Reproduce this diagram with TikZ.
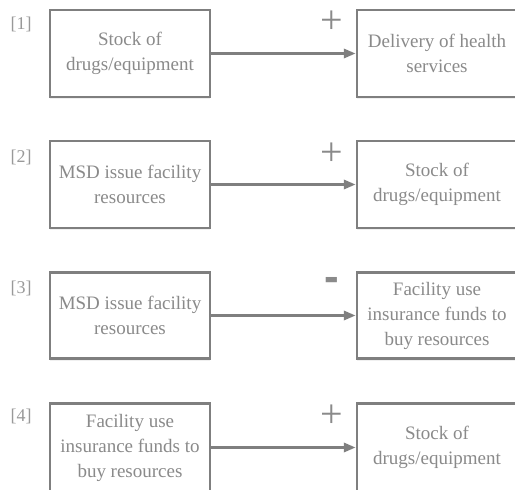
\documentclass[tikz,border=0pt]{standalone}
\usepackage{fontspec}
\setmainfont{Liberation Serif}
\newfontfamily\signfont{Liberation Sans}
\usetikzlibrary{arrows.meta,shadows}
\definecolor{boxline}{HTML}{7F7F7F}
\definecolor{boxtext}{HTML}{8A8A8A}
\definecolor{numtext}{HTML}{999999}
\tikzset{
  boxnode/.style={draw=boxline, line width=2.4pt, fill=white, minimum width=160pt,
    minimum height=87pt, align=center, inner sep=0pt, text=boxtext,
    font=\fontsize{19}{25}\selectfont,
    drop shadow={opacity=0.12, shadow xshift=0pt, shadow yshift=-2pt}},
  numlabel/.style={text=numtext, font=\fontsize{18}{20}\selectfont, inner sep=0pt},
  signlabel/.style={text=boxtext, font=\fontsize{40}{40}\selectfont, inner sep=0pt},
  minuslabel/.style={text=boxtext, font=\signfont\bfseries\fontsize{44}{44}\selectfont, inner sep=0pt},
  linkarrow/.style={draw=boxline, line width=3pt, -{Triangle[length=12pt,width=9pt]}}
}
\begin{document}
\begin{tikzpicture}[x=1pt,y=-1pt]
\useasboundingbox (0,0) rectangle (515,490);
% row 1
\node[boxnode] (l1) at (130,53.5) {Stock of\\drugs/equipment};
\node[boxnode] (r1) at (437,53.5) {Delivery of health\\services};
\draw[linkarrow] (l1.east) -- (r1.west);
\node[numlabel] (n1) at (21,24) {[1]};
\node[signlabel] (s1) at (332,22) {+};
% row 2
\node[boxnode] (l2) at (130,184.5) {MSD issue facility\\resources};
\node[boxnode] (r2) at (437,184.5) {Stock of\\drugs/equipment};
\draw[linkarrow] (l2.east) -- (r2.west);
\node[numlabel] (n2) at (21,157) {[2]};
\node[signlabel] (s2) at (332,154) {+};
% row 3
\node[boxnode, minimum height=86pt] (l3) at (130,315.5) {MSD issue facility\\resources};
\node[boxnode, minimum height=86pt] (r3) at (437,315.5) {Facility use\\insurance funds to\\buy resources};
\draw[linkarrow] (l3.east) -- (r3.west);
\node[numlabel] (n3) at (21,288) {[3]};
\node[minuslabel] (s3) at (332,284) {-};
% row 4
\node[boxnode, minimum height=88pt] (l4) at (130,447.5) {Facility use\\insurance funds to\\buy resources};
\node[boxnode, minimum height=88pt] (r4) at (437,447.5) {Stock of\\drugs/equipment};
\draw[linkarrow] (l4.east) -- (r4.west);
\node[numlabel] (n4) at (21,416) {[4]};
\node[signlabel] (s4) at (332,416) {+};
\end{tikzpicture}
\end{document}
